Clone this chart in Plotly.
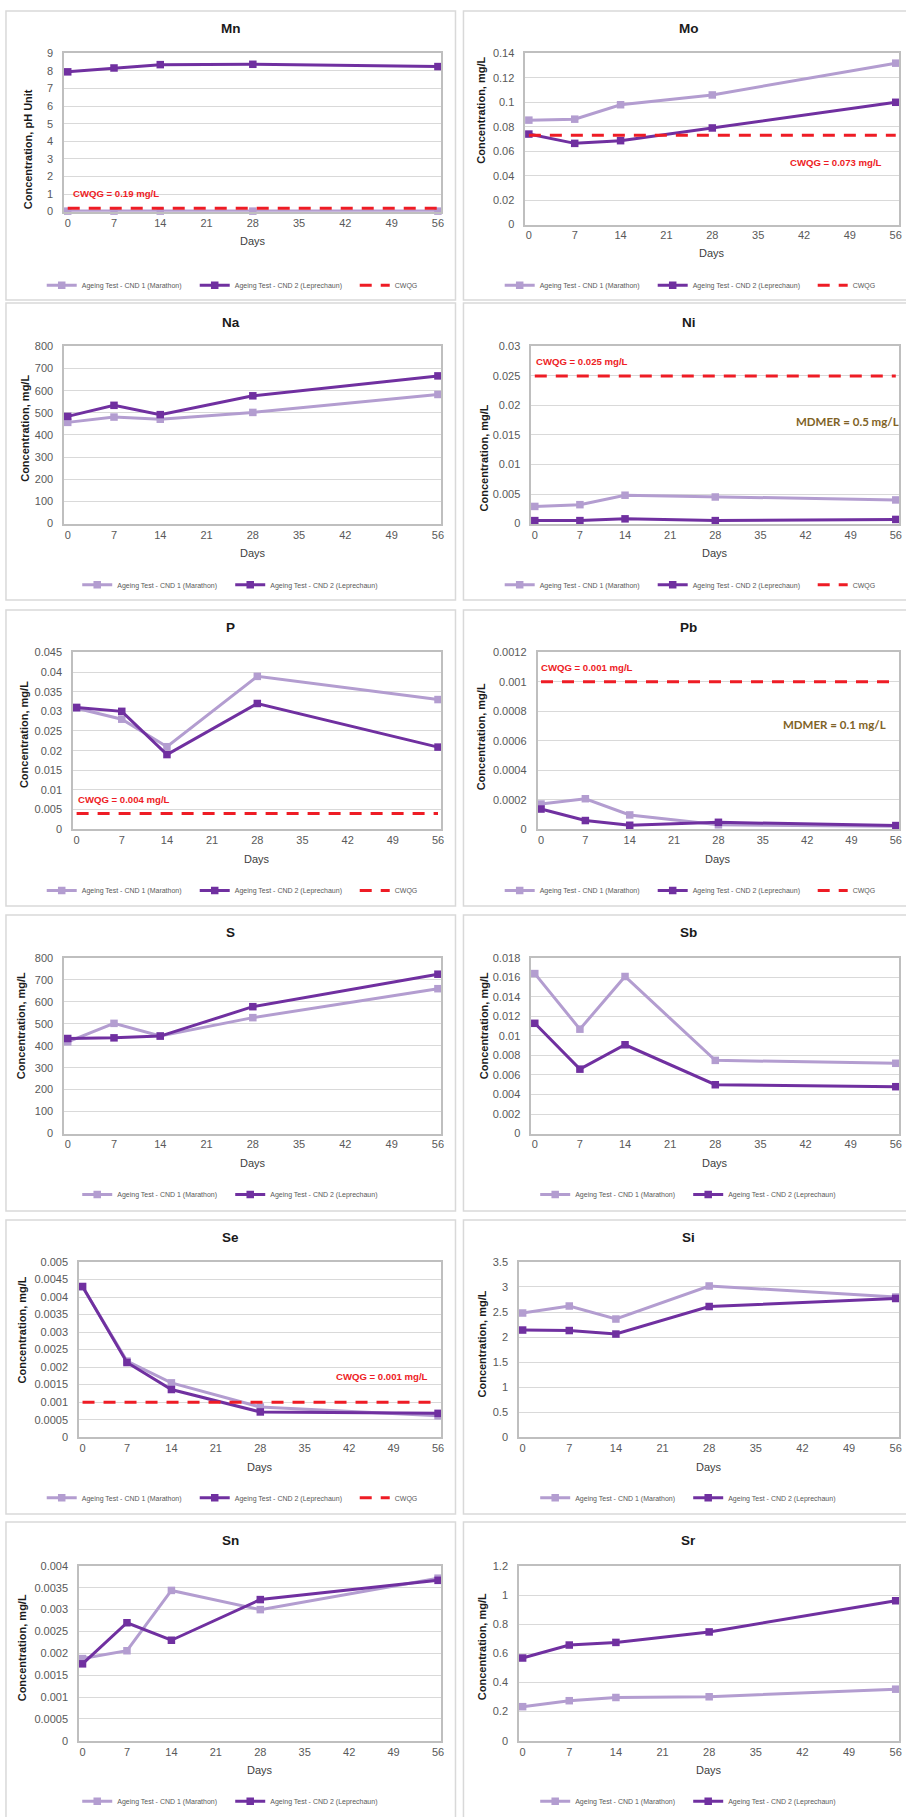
import plotly.graph_objects as go

# ---------------- data ----------------
days = [0, 7, 14, 28, 56]
day_ticks = [0, 7, 14, 21, 28, 35, 42, 49, 56]
name_cnd1 = "Ageing Test - CND 1 (Marathon)"
name_cnd2 = "Ageing Test - CND 2 (Leprechaun)"
name_cwqg = "CWQG"

mn_cnd1 = [0.03, 0.03, 0.03, 0.03, 0.03]
mn_cnd2 = [7.95, 8.17, 8.36, 8.38, 8.25]
mn_cwqg = 0.19
mo_cnd1 = [0.0854, 0.0862, 0.098, 0.106, 0.132]
mo_cnd2 = [0.074, 0.0664, 0.0686, 0.079, 0.100]
mo_cwqg = 0.073
na_cnd1 = [457, 481, 471, 502, 583]
na_cnd2 = [484, 534, 492, 577, 667]
ni_cnd1 = [0.0029, 0.0032, 0.0048, 0.0045, 0.0040]
ni_cnd2 = [0.0005, 0.0005, 0.0008, 0.0005, 0.0007]
ni_cwqg = 0.025
p_cnd1 = [0.0308, 0.028, 0.021, 0.0389, 0.033]
p_cnd2 = [0.031, 0.030, 0.019, 0.032, 0.0209]
p_cwqg = 0.004
pb_cnd1 = [0.000171, 0.000207, 0.000097, 0.00003, 0.00002]
pb_cnd2 = [0.000137, 0.000059, 0.000027, 0.000047, 0.000025]
pb_cwqg = 0.001
s_cnd1 = [418, 502, 445, 528, 660]
s_cnd2 = [433, 436, 444, 578, 726]
sb_cnd1 = [0.0164, 0.0107, 0.0161, 0.0075, 0.0072]
sb_cnd2 = [0.0113, 0.0066, 0.0091, 0.0050, 0.0048]
se_cnd1 = [0.00429, 0.00217, 0.00155, 0.00086, 0.00061]
se_cnd2 = [0.0043, 0.00213, 0.00136, 0.00072, 0.00068]
se_cwqg = 0.001
si_cnd1 = [2.48, 2.62, 2.36, 3.02, 2.80]
si_cnd2 = [2.14, 2.13, 2.06, 2.61, 2.77]
sn_cnd1 = [0.00188, 0.00206, 0.00344, 0.0030, 0.00372]
sn_cnd2 = [0.00176, 0.0027, 0.0023, 0.00323, 0.00367]
sr_cnd1 = [0.234, 0.275, 0.297, 0.302, 0.354]
sr_cnd2 = [0.568, 0.657, 0.675, 0.747, 0.961]

# ---------------- layout geometry (pixels) ----------------
W, H = 906, 1817
FONT = "Liberation Sans, Arial, sans-serif"
C1 = "#B39DD0"
C2 = "#7030A0"
RED = "#EE1C25"
OLIVE = "#7F6327"
YT = "Concentration, mg/L"

rows = [(5, 296), (299, 598), (608, 906), (915, 1213), (1222, 1518), (1526, 1832)]
cols = [(6, 457), (465, 925)]

panels = [
    dict(t="Mn", c=0, r=0, p=(64.3, 442.7, 47.7, 207), ymax=9, dt=1, yt="Concentration, pH Unit",
         ytp=(28.3, 144), ty=23, dy=237, ly=281, d1=mn_cnd1, d2=mn_cnd2, g=mn_cwqg,
         lab=[("CWQG = 0.19 mg/L", 71, 189, RED)]),
    dict(t="Mo", c=1, r=0, p=(527, 902, 47.7, 220), ymax=0.14, dt=0.02, yt=YT,
         ytp=(483, 105), ty=23, dy=249, ly=281, d1=mo_cnd1, d2=mo_cnd2, g=mo_cwqg,
         lab=[("CWQG = 0.073 mg/L", 791, 157.7, RED)]),
    dict(t="Na", c=0, r=1, p=(64.3, 442.7, 342.7, 521), ymax=800, dt=100, yt=YT,
         ytp=(25, 424.7), ty=318.3, dy=551, ly=582.7, d1=na_cnd1, d2=na_cnd2, g=None, lab=[]),
    dict(t="Ni", c=1, r=1, p=(533, 902, 342.7, 521), ymax=0.03, dt=0.005, yt=YT,
         ytp=(485.3, 454.7), ty=318.3, dy=551, ly=582.7, d1=ni_cnd1, d2=ni_cnd2, g=ni_cwqg,
         lab=[("CWQG = 0.025 mg/L", 535.7, 357.7, RED), ("MDMER = 0.5 mg/L", 797, 418, OLIVE)]),
    dict(t="P", c=0, r=2, p=(73.3, 442.7, 650.7, 828.7), ymax=0.045, dt=0.005, yt=YT,
         ytp=(24, 733), ty=626, dy=859, ly=890.3, d1=p_cnd1, d2=p_cnd2, g=p_cwqg,
         lab=[("CWQG = 0.004 mg/L", 76, 798.7, RED)]),
    dict(t="Pb", c=1, r=2, p=(539.3, 902, 650.7, 828.7), ymax=0.0012, dt=0.0002, yt=YT,
         ytp=(483, 735.8), ty=626, dy=859, ly=890.3, d1=pb_cnd1, d2=pb_cnd2, g=pb_cwqg,
         lab=[("CWQG = 0.001 mg/L", 541, 665.7, RED), ("MDMER = 0.1 mg/L", 784, 723.3, OLIVE)]),
    dict(t="S", c=0, r=3, p=(64.3, 442.7, 958.3, 1135), ymax=800, dt=100, yt=YT,
         ytp=(20.7, 1026.3), ty=933, dy=1165, ly=1196.3, d1=s_cnd1, d2=s_cnd2, g=None, lab=[]),
    dict(t="Sb", c=1, r=3, p=(533, 902, 958.3, 1135), ymax=0.018, dt=0.002, yt=YT,
         ytp=(485.3, 1026.3), ty=933, dy=1165, ly=1196.3, d1=sb_cnd1, d2=sb_cnd2, g=None, lab=[]),
    dict(t="Se", c=0, r=4, p=(79.3, 442.7, 1264.3, 1440.7), ymax=0.005, dt=0.0005, yt=YT,
         ytp=(22.3, 1333), ty=1240, dy=1471, ly=1501.7, d1=se_cnd1, d2=se_cnd2, g=se_cwqg,
         lab=[("CWQG = 0.001 mg/L", 335, 1380, RED)]),
    dict(t="Si", c=1, r=4, p=(520.7, 902, 1264.3, 1440.7), ymax=3.5, dt=0.5, yt=YT,
         ytp=(483.7, 1347.3), ty=1240, dy=1471, ly=1501.7, d1=si_cnd1, d2=si_cnd2, g=None, lab=[]),
    dict(t="Sn", c=0, r=5, p=(79.3, 442.7, 1570.3, 1746.3), ymax=0.004, dt=0.0005, yt=YT,
         ytp=(22.3, 1653), ty=1545, dy=1776, ly=1807.3, d1=sn_cnd1, d2=sn_cnd2, g=None, lab=[]),
    dict(t="Sr", c=1, r=5, p=(520.7, 902, 1570.3, 1746.3), ymax=1.2, dt=0.2, yt=YT,
         ytp=(483.7, 1652), ty=1545, dy=1776, ly=1807.3, d1=sr_cnd1, d2=sr_cnd2, g=None, lab=[]),
]


def px(x):
    return x / W


def py(y):
    return 1 - y / H


fig = go.Figure()
annotations = []
shapes = []
layout_axes = {}

for i, pn in enumerate(panels):
    k = i + 1
    sfx = "" if k == 1 else str(k)
    xa, ya = "x" + sfx, "y" + sfx
    leg = "legend" + sfx
    l, r, t, b = pn["p"]

    # panel frame
    cx0, cx1 = cols[pn["c"]]
    ry0, ry1 = rows[pn["r"]]
    shapes.append(dict(type="rect", xref="paper", yref="paper", x0=px(cx0), x1=px(cx1),
                       y0=py(ry1), y1=py(ry0), line=dict(color="#D9D9D9", width=1.5),
                       fillcolor="white", layer="below"))

    fig.add_trace(go.Scatter(x=days, y=pn["d1"], name=name_cnd1, mode="lines+markers",
                             line=dict(color=C1, width=3), marker=dict(symbol="square", size=7.5, color=C1),
                             xaxis=xa, yaxis=ya, legend=leg, legendwidth=108, cliponaxis=False))
    fig.add_trace(go.Scatter(x=days, y=pn["d2"], name=name_cnd2, mode="lines+markers",
                             line=dict(color=C2, width=3), marker=dict(symbol="square", size=7.5, color=C2),
                             xaxis=xa, yaxis=ya, legend=leg, legendwidth=115, cliponaxis=False))
    if pn["g"] is not None:
        fig.add_trace(go.Scatter(x=[days[0], days[-1]], y=[pn["g"], pn["g"]], name=name_cwqg,
                                 mode="lines", line=dict(color=RED, width=3, dash="12px,9px"),
                                 xaxis=xa, yaxis=ya, legend=leg, legendwidth=26, cliponaxis=False))

    layout_axes["xaxis" + sfx] = dict(
        domain=[px(l), px(r)], anchor=ya, range=[-0.55, 56.5], tickvals=day_ticks,
        showgrid=False, zeroline=False, showline=True, mirror=True, linecolor="#BFBFBF", linewidth=1.5,
        ticks="", tickfont=dict(family=FONT, size=11, color="#595959"), ticklabelstandoff=0,
        fixedrange=True)
    layout_axes["yaxis" + sfx] = dict(
        domain=[py(b), py(t)], anchor=xa, range=[0, pn["ymax"]], tick0=0, dtick=pn["dt"],
        tickformat="~g", showgrid=True, gridcolor="#D9D9D9", gridwidth=1, zeroline=False,
        showline=True, mirror=True, linecolor="#BFBFBF", linewidth=1.5, ticks="",
        tickfont=dict(family=FONT, size=11, color="#595959"), ticklabelstandoff=7, fixedrange=True)

    layout_axes[leg] = dict(orientation="h", x=px((cx0 + min(cx1, 917)) / 2 + 3), y=py(pn["ly"]),
                            xanchor="center", yanchor="middle", bgcolor="rgba(0,0,0,0)",
                            font=dict(family=FONT, size=7, color="#595959"), itemwidth=30,
                            tracegroupgap=0, entrywidthmode="pixels")

    # panel title
    annotations.append(dict(text="<b>%s</b>" % pn["t"], x=px((cx0 + min(cx1, 917)) / 2), y=py(pn["ty"]),
                            xref="paper", yref="paper", showarrow=False, xanchor="center", yanchor="middle",
                            font=dict(family=FONT, size=13.5, color="#1A1A1A")))
    # y title
    annotations.append(dict(text="<b>%s</b>" % pn["yt"], x=px(pn["ytp"][0]), y=py(pn["ytp"][1]),
                            xref="paper", yref="paper", showarrow=False, xanchor="center", yanchor="middle",
                            textangle=-90, font=dict(family=FONT, size=11, color="#1A1A1A")))
    # x title
    annotations.append(dict(text="Days", x=px((l + r) / 2), y=py(pn["dy"]),
                            xref="paper", yref="paper", showarrow=False, xanchor="center", yanchor="middle",
                            font=dict(family=FONT, size=11, color="#404040")))
    for txt, lx, ly, col in pn["lab"]:
        if col == OLIVE:
            f = dict(family="Lato, Open Sans, sans-serif", size=11.5, color=col)
        else:
            f = dict(family=FONT, size=9.6, color=col)
        annotations.append(dict(text="<b>%s</b>" % txt, x=px(lx), y=py(ly), xref="paper", yref="paper",
                                showarrow=False, xanchor="left", yanchor="middle", font=f))

fig.update_layout(
    width=W, height=H, margin=dict(l=0, r=0, t=0, b=0, pad=0),
    paper_bgcolor="white", plot_bgcolor="white",
    font=dict(family=FONT, color="#595959"),
    showlegend=True, annotations=annotations, shapes=shapes, **layout_axes)

fig.write_html("out.html", config={"displayModeBar": False},
               post_script="document.body.style.margin='0';")
